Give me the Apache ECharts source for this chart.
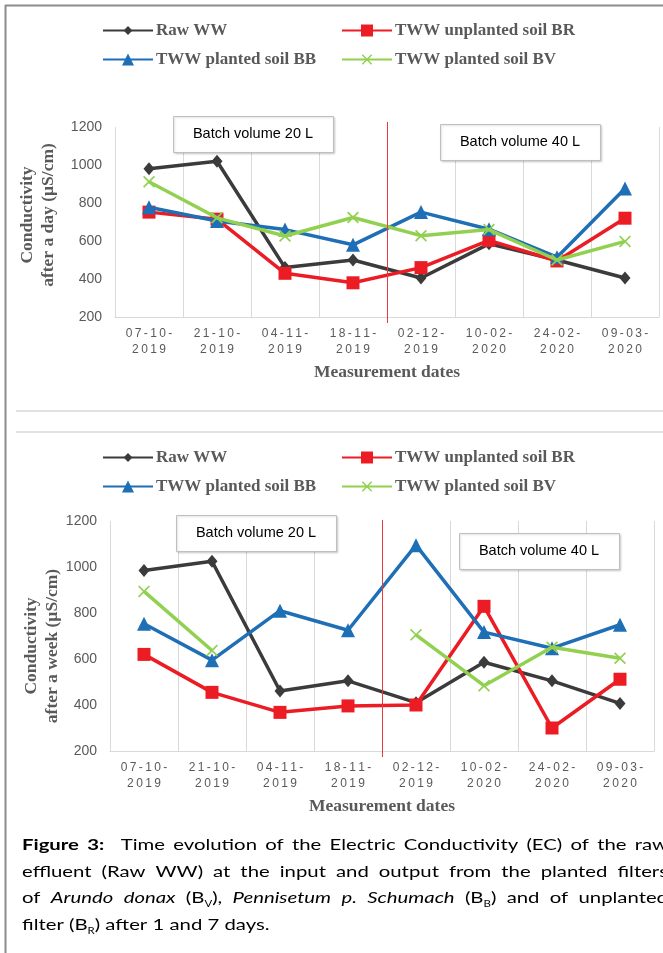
<!DOCTYPE html>
<html><head><meta charset="utf-8">
<script src="https://cdn.jsdelivr.net/npm/echarts@6/dist/echarts.min.js"></script>
<style>html,body{margin:0;padding:0;background:#fff;overflow:hidden}#c{width:663px;height:953px}</style>
</head><body><div id="c"></div><script>
// ---- data ----
const categories = ['07-10-2019','21-10-2019','04-11-2019','18-11-2019','02-12-2019','10-02-2020','24-02-2020','09-03-2020'];
const yMin = 200, yMax = 1200, yStep = 200;
const seriesNames = ['Raw WW','TWW unplanted soil BR','TWW planted soil BB','TWW planted soil BV'];
// after a day
const dayRaw = [980, 1020, 460, 500, 405, 585, 500, 405];
const dayBR  = [752, 715, 430, 380, 460, 603, 495, 720];
const dayBB  = [778, 705, 660, 580, 752, 662, 515, 876];
const dayBV  = [912, 722, 626, 724, 628, 660, 500, 598];
// after a week
const weekRaw = [985, 1025, 461, 505, 410, 586, 505, 407];
const weekBR  = [620, 455, 368, 396, 400, 829, 300, 512];
const weekBB  = [753, 595, 810, 725, 1095, 717, 647, 749];
const weekBV  = [894, 637, null, null, 705, 484, 651, 603];
const yTitles = ['Conductivity\nafter a day (µS/cm)', 'Conductivity\nafter a week (µS/cm)'];
const xTitle = 'Measurement dates';
const batchLabels = ['Batch volume 20 L', 'Batch volume 40 L'];

// ---- styles ----
const colors = ['#3b3b3b', '#ec1c24', '#1f6fb7', '#92d050'];
const xPath = 'path://M0,1L1,0L5,4L9,0L10,1L6,5L10,9L9,10L5,6L1,10L0,9L4,5Z';
const symbols = ['diamond', 'rect', 'triangle', xPath];
const symSizes = [[11, 13], 13, 14, 12];
const legendH = [11, 15, 15, 13];
const grey = '#595959';
const serif = '"Liberation Serif","Times New Roman",serif';
const sans = '"Liberation Sans",Arial,sans-serif';

const grids = [
  {left: 115, top: 127, width: 544, height: 190},
  {left: 110, top: 521, width: 544, height: 230}
];
const nameGaps = [56, 47];
const namePads = [[0, 0, 0, 14], [0, 20, 0, 0]];
const legendRows = [[32, 61], [459, 488]];
const legendCols = [102, 341];

const sp = s => s.split('').join('\u2009');

const chart = echarts.init(document.getElementById('c'), null, {renderer: 'canvas', devicePixelRatio: 1});

const xAxes = grids.map((g, i) => ({
  type: 'category', gridIndex: i, data: categories, boundaryGap: true,
  axisLine: {lineStyle: {color: '#d9d9d9', width: 1}},
  axisTick: {show: false},
  splitLine: {show: true, lineStyle: {color: '#d9d9d9', width: 1}},
  axisLabel: {
    color: grey, fontFamily: sans, fontSize: 12, lineHeight: 16, margin: 9, interval: 0,
    formatter: v => { const k = v.lastIndexOf('-'); return sp(v.slice(0, k + 1)) + '\n' + sp(v.slice(k + 1)); }
  },
  name: xTitle, nameLocation: 'middle', nameGap: 46, nameMoveOverlap: false,
  nameTextStyle: {color: grey, fontFamily: serif, fontWeight: 'bold', fontSize: 17.5}
}));
const yAxes = grids.map((g, i) => ({
  type: 'value', gridIndex: i, min: yMin, max: yMax, interval: yStep,
  axisLine: {show: false}, axisTick: {show: false}, splitLine: {show: false},
  axisLabel: {color: grey, fontFamily: sans, fontSize: 14, margin: 13, formatter: v => String(v)},
  name: yTitles[i], nameLocation: 'middle', nameRotate: 90, nameGap: nameGaps[i], nameMoveOverlap: false,
  nameTextStyle: {color: grey, fontFamily: serif, fontWeight: 'bold', fontSize: 17.5, lineHeight: 21, padding: namePads[i]}
}));

const sets = [[dayRaw, dayBR, dayBB, dayBV], [weekRaw, weekBR, weekBB, weekBV]];
const series = [];
sets.forEach((arrs, gi) => arrs.forEach((d, si) => {
  series.push({
    type: 'line', name: seriesNames[si], xAxisIndex: gi, yAxisIndex: gi, data: d,
    connectNulls: false, symbol: symbols[si], symbolSize: symSizes[si], showAllSymbol: true,
    lineStyle: {color: colors[si], width: 3.5},
    itemStyle: {color: colors[si]},
    emphasis: {disabled: true}, z: 2 + si
  });
}));

const legends = [];
legendRows.forEach(rows => seriesNames.forEach((n, si) => {
  const r = Math.floor(si / 2), c = si % 2;
  legends.push({
    left: legendCols[c], top: rows[r] - 10, data: [n], itemWidth: 50, itemHeight: legendH[si],
    itemGap: 0, selectedMode: false, padding: 0,
    textStyle: {color: grey, fontFamily: serif, fontWeight: 'bold', fontSize: 17, padding: [0, 0, 0, -2]}
  });
}));

chart.setOption({
  animation: false,
  grid: grids.map(g => Object.assign({containLabel: false}, g)),
  xAxis: xAxes, yAxis: yAxes, series, legend: legends
});

// ---- annotations ----
const els = [];
// frame
els.push({type: 'line', shape: {x1: 5.5, y1: 5, x2: 5.5, y2: 953}, style: {stroke: '#8c8c8c', lineWidth: 2}, silent: true});
els.push({type: 'line', shape: {x1: 5, y1: 5.5, x2: 663, y2: 5.5}, style: {stroke: '#8c8c8c', lineWidth: 2}, silent: true});
els.push({type: 'line', shape: {x1: 16, y1: 411, x2: 663, y2: 411}, style: {stroke: '#d9d9d9', lineWidth: 1.5}, silent: true});
els.push({type: 'line', shape: {x1: 16, y1: 432, x2: 663, y2: 432}, style: {stroke: '#d9d9d9', lineWidth: 1.5}, silent: true});

// red separator line between 4th and 5th date
const redTopExt = [5, 1];
grids.forEach((g, gi) => {
  const a = chart.convertToPixel({xAxisIndex: gi}, categories[3]);
  const b = chart.convertToPixel({xAxisIndex: gi}, categories[4]);
  const x = Math.round((a + b) / 2) + 0.5;
  const yT = chart.convertToPixel({yAxisIndex: gi}, yMax) - redTopExt[gi];
  const yB = chart.convertToPixel({yAxisIndex: gi}, yMin) + 6;
  els.push({type: 'line', shape: {x1: x, y1: yT, x2: x, y2: yB}, style: {stroke: '#e8393d', lineWidth: 1}, silent: true, z: 10});
});

// batch boxes
const boxes = [
  [173, 116, 0], [440, 124, 1],
  [176, 515, 0], [459, 533, 1]
];
boxes.forEach(([x, y, k]) => {
  els.push({type: 'rect', shape: {x: x + 0.5, y: y + 0.5, width: 160, height: 36},
    style: {fill: '#fff', stroke: '#bfbfbf', lineWidth: 1, shadowBlur: 2, shadowColor: 'rgba(0,0,0,0.15)', shadowOffsetX: 1, shadowOffsetY: 1}, z: 20, silent: true});
  els.push({type: 'text', x: x + 80, y: y + 18, z: 21, silent: true,
    style: {text: batchLabels[k], fontFamily: sans, fontSize: 14.5, fill: '#000', align: 'center', verticalAlign: 'middle', textAlign: 'center', textVerticalAlign: 'middle'}});
});

// caption (justified lines)
const capFam = 'Lato';
const capSize = 16;
const capScale = 1.27;
const capLeft = 22, capRight = 668;
const capLines = [
  {y: 845, j: true, t: '{b|Figure} {b|3:}  Time evolution of the Electric Conductivity (EC) of the raw'},
  {y: 872, j: true, t: 'effluent (Raw WW) at the input and output from the planted filters'},
  {y: 898, j: true, t: 'of {i|Arundo} {i|donax} (B{s|V}), {i|Pennisetum} {i|p.} {i|Schumach} (B{s|B}) and of unplanted'},
  {y: 925, j: false, t: 'filter (B{s|R}) after 1 and 7 days.'}
];
const rich = {
  b: {fontFamily: capFam, fontSize: capSize, fontWeight: 'bold', lineHeight: 22, fill: '#000', color: '#000'},
  i: {fontFamily: capFam, fontSize: capSize, fontStyle: 'italic', lineHeight: 22, fill: '#000', color: '#000'},
  s: {fontFamily: capFam, fontSize: 9, lineHeight: 11, verticalAlign: 'bottom', fill: '#000', color: '#000'},
  n: {fontFamily: capFam, fontSize: capSize, lineHeight: 22, fill: '#000', color: '#000'}
};
const cv = document.createElement('canvas').getContext('2d');
function fontOf(k) {
  const r = rich[k];
  return (r.fontStyle || 'normal') + ' ' + (r.fontWeight || 'normal') + ' ' + r.fontSize + 'px ' + capFam;
}
function parts(w) {
  const out = []; const re = /\{(\w)\|([^}]*)\}/g; let m, last = 0;
  while ((m = re.exec(w))) { if (m.index > last) out.push(['n', w.slice(last, m.index)]); out.push([m[1], m[2]]); last = re.lastIndex; }
  if (last < w.length) out.push(['n', w.slice(last)]);
  return out;
}
function wordWidth(w) { return capScale * parts(w).reduce((s, [k, t]) => { cv.font = fontOf(k); return s + cv.measureText(t).width; }, 0); }
function richStr(w) { return parts(w).map(([k, t]) => '{' + k + '|' + t + '}').join(''); }
cv.font = fontOf('n');
const spaceW = cv.measureText(' ').width * capScale;
capLines.forEach(L => {
  const words = L.t.split(' ');
  const widths = words.map(wordWidth);
  const total = widths.reduce((a, b) => a + b, 0);
  const gaps = words.length - 1;
  const gap = L.j ? (capRight - capLeft - total) / gaps : spaceW;
  let x = capLeft;
  words.forEach((w, i) => {
    if (w.length) {
      els.push({type: 'text', x: x, y: L.y, scaleX: capScale, silent: true, z: 30,
        style: {text: richStr(w), rich, fontFamily: capFam, fontSize: capSize, fill: '#000', align: 'left', verticalAlign: 'middle', textAlign: 'left', textVerticalAlign: 'middle'}});
    }
    x += widths[i] + gap;
  });
});

chart.setOption({graphic: {elements: els}});
</script></body></html>
